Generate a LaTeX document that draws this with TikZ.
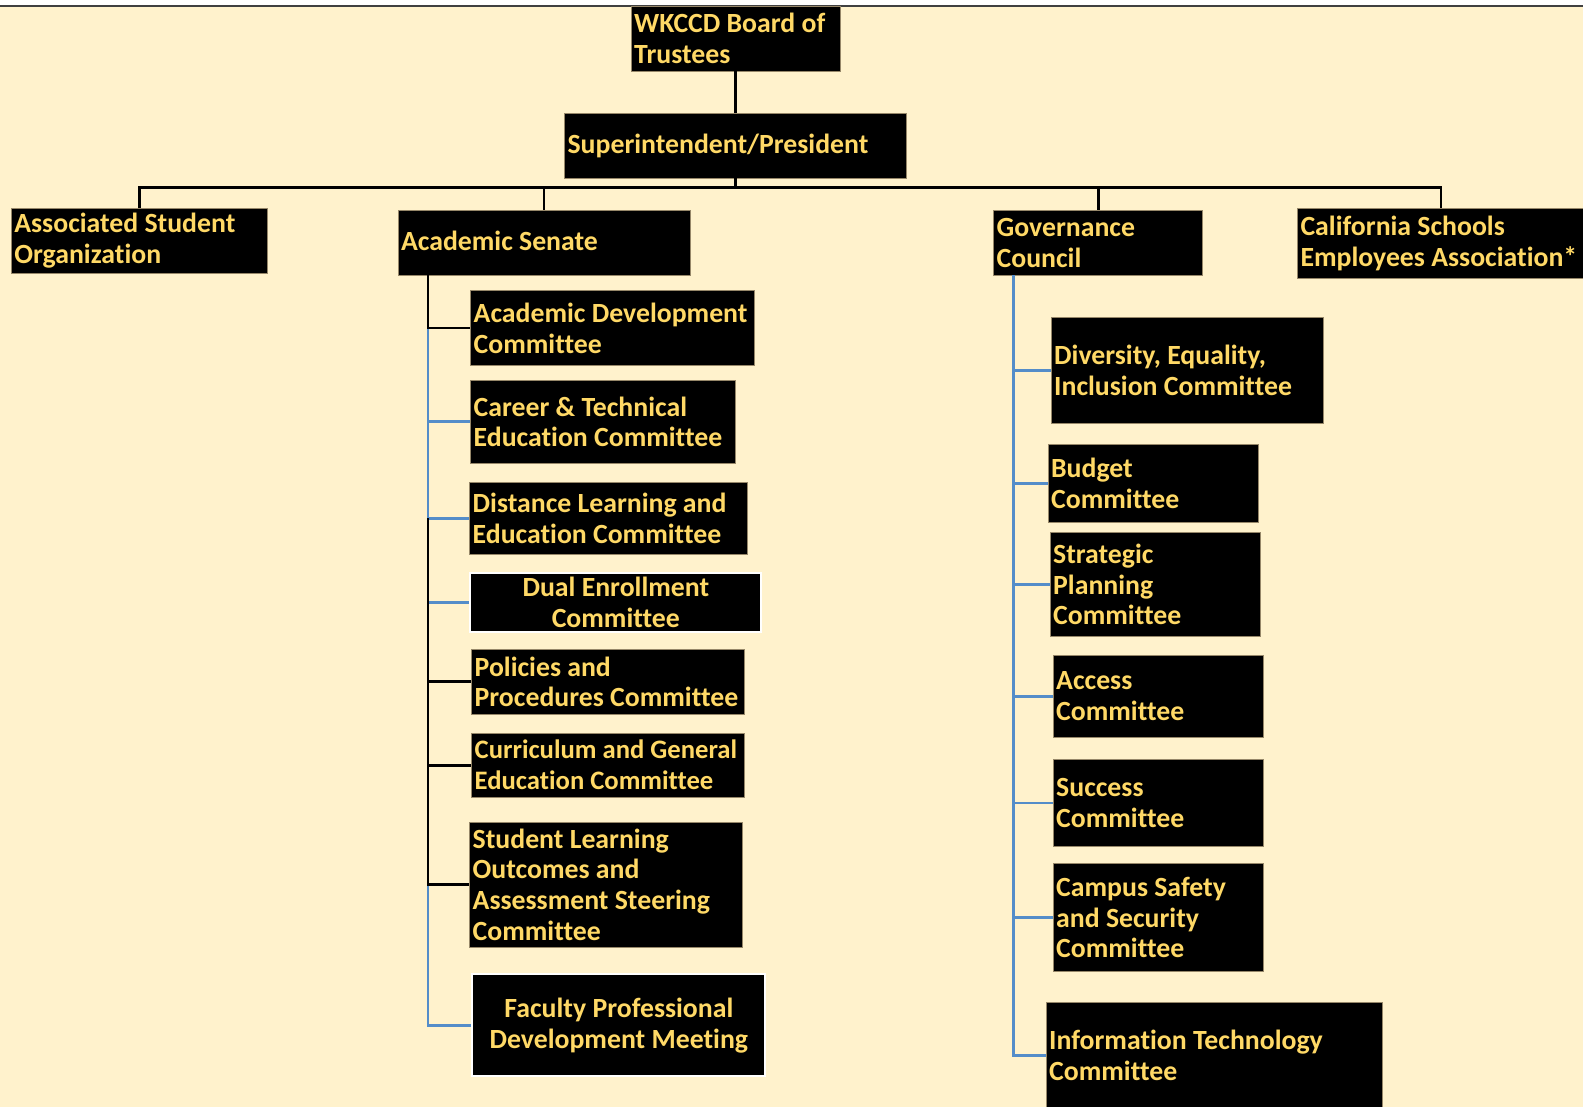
\documentclass[tikz,border=0pt]{standalone}
\usepackage{fontspec}
\setmainfont{Carlito}[Ligatures=NoCommon]
\definecolor{cream}{RGB}{255,242,204}
\definecolor{gold}{RGB}{255,217,102}
\definecolor{lblue}{RGB}{84,141,201}
\definecolor{edge}{RGB}{150,135,105}
\begin{document}
\begin{tikzpicture}[x=1pt,y=-1pt,
  box/.style={fill=black, draw=edge, line width=0.7pt, inner sep=0, anchor=north west},
  wbox/.style={box, draw=white, line width=2pt},
  txt/.style={text=gold, font=\fontsize{27.5}{30.5}\selectfont\bfseries, align=left, inner sep=0, anchor=west},
  stxt/.style={txt, font=\fontsize{26.4}{30.5}\selectfont\bfseries},
  ctxt/.style={txt, align=center, anchor=center},
  bconn/.style={draw=black, line width=2.8pt},
  uconn/.style={draw=lblue, line width=2.8pt}]
% background
\useasboundingbox (0,0) rectangle (1568,1096);
\fill[white] (0,0) rectangle (1568,1096);
\fill[cream] (0,6.5) rectangle (1568,1096);
\draw[black!75, line width=1.3pt] (0,6) -- (1568,6);
\clip (0,0) rectangle (1568,1096);

% boxes
\node[box, minimum width=207pt, minimum height=64pt] (board) at (625,6) {};
\node[box, minimum width=338pt, minimum height=64pt] (sup) at (559,112) {};
\node[box, minimum width=253pt, minimum height=64pt] (aso) at (11,206) {};
\node[box, minimum width=289pt, minimum height=64pt] (senate) at (394,208) {};
\node[box, minimum width=207pt, minimum height=64pt] (gov) at (984,208) {};
\node[box, minimum width=284pt, minimum height=69pt] (csea) at (1285,206) {};

\node[box, minimum width=281pt, minimum height=75pt] (acd) at (466,287) {};
\node[box, minimum width=262pt, minimum height=83pt] (cte) at (466,376) {};
\node[box, minimum width=275pt, minimum height=72pt] (dle) at (465,477) {};
\node[wbox, minimum width=288pt, minimum height=58pt] (dual) at (465,567) {};
\node[box, minimum width=270pt, minimum height=64pt] (pp) at (467,643) {};
\node[box, minimum width=270pt, minimum height=63pt] (cge) at (467,726) {};
\node[box, minimum width=270pt, minimum height=124pt] (slo) at (465,814) {};
\node[wbox, minimum width=290pt, minimum height=101pt] (fpd) at (467,964) {};

\node[box, minimum width=269pt, minimum height=105pt] (dei) at (1041,314) {};
\node[box, minimum width=208pt, minimum height=77pt] (bud) at (1038,440) {};
\node[box, minimum width=208pt, minimum height=103pt] (spc) at (1040,527) {};
\node[box, minimum width=208pt, minimum height=81pt] (acc) at (1043,649) {};
\node[box, minimum width=208pt, minimum height=86pt] (suc) at (1043,752) {};
\node[box, minimum width=208pt, minimum height=107pt] (css) at (1043,855) {};
\node[box, minimum width=333pt, minimum height=106pt] (itc) at (1036,992) {};

% texts
\node[txt] (board-t) at ([xshift=3pt]board.west) {WKCCD Board of\\Trustees};
\node[txt] (sup-t) at ([xshift=3pt]sup.west) {Superintendent/President};
\node[txt] (aso-t) at ([xshift=3pt]aso.west) {Associated Student\\Organization};
\node[txt] (senate-t) at ([xshift=3pt,yshift=1.5pt]senate.west) {Academic Senate};
\node[txt] (gov-t) at ([xshift=3pt]gov.west) {Governance\\Council};
\node[txt] (csea-t) at ([xshift=3pt]csea.west) {California Schools\\Employees Association*};

\node[txt] (acd-t) at ([xshift=3pt]acd.west) {Academic Development\\Committee};
\node[txt] (cte-t) at ([xshift=3pt]cte.west) {Career \& Technical\\Education Committee};
\node[txt] (dle-t) at ([xshift=3pt]dle.west) {Distance Learning and\\Education Committee};
\node[ctxt] (dual-t) at (dual.center) {Dual Enrollment\\Committee};
\node[txt] (pp-t) at ([xshift=3pt]pp.west) {Policies and\\Procedures Committee};
\node[stxt] (cge-t) at ([xshift=3pt]cge.west) {Curriculum and General\\Education Committee};
\node[txt] (slo-t) at ([xshift=3pt]slo.west) {Student Learning\\Outcomes and\\Assessment Steering\\Committee};
\node[ctxt] (fpd-t) at (fpd.center) {Faculty Professional\\Development Meeting};

\node[txt] (dei-t) at ([xshift=3pt]dei.west) {Diversity, Equality,\\Inclusion Committee};
\node[txt] (bud-t) at ([xshift=3pt]bud.west) {Budget\\Committee};
\node[txt] (spc-t) at ([xshift=3pt]spc.west) {Strategic\\Planning\\Committee};
\node[txt] (acc-t) at ([xshift=3pt]acc.west) {Access\\Committee};
\node[txt] (suc-t) at ([xshift=3pt]suc.west) {Success\\Committee};
\node[txt] (css-t) at ([xshift=3pt]css.west) {Campus Safety\\and Security\\Committee};
\node[txt] (itc-t) at ([xshift=3pt]itc.west) {Information Technology\\Committee};

% top connectors
\coordinate (bus) at (sup.south |- 0,186);
\draw[bconn] (board.south) -- (board.south |- sup.north);
\draw[bconn] (sup.south) -- (bus);
\draw[bconn] (bus) -| (aso.north);
\draw[bconn] (bus) -| (senate.north);
\draw[bconn] (bus) -| (gov.north);
\draw[bconn] (bus) -| (csea.north);

% academic senate connectors
\coordinate (sv) at ([xshift=30pt]senate.south west);
\draw[uconn] (acd.west -| sv) |- (cte.west);
\draw[uconn] (cte.west -| sv) |- (dle.west);
\draw[uconn] (sv |- dual.west) -- (dual.west);
\draw[uconn] (slo.west -| sv) |- (fpd.west);
\draw[bconn] (sv) |- (acd.west);
\draw[bconn] (dle.west -| sv) |- (pp.west);
\draw[bconn] (pp.west -| sv) |- (cge.west);
\draw[bconn] (cge.west -| sv) |- (slo.west);

% governance connectors
\coordinate (gv) at ([xshift=20pt]gov.south west);
\draw[uconn] (gv) |- (dei.west);
\draw[uconn] (dei.west -| gv) |- (bud.west);
\draw[uconn] (bud.west -| gv) |- (spc.west);
\draw[uconn] (spc.west -| gv) |- (acc.west);
\draw[uconn] (acc.west -| gv) |- (suc.west);
\draw[uconn] (suc.west -| gv) |- (css.west);
\draw[uconn] (css.west -| gv) |- (itc.west);
\end{tikzpicture}
\end{document}
